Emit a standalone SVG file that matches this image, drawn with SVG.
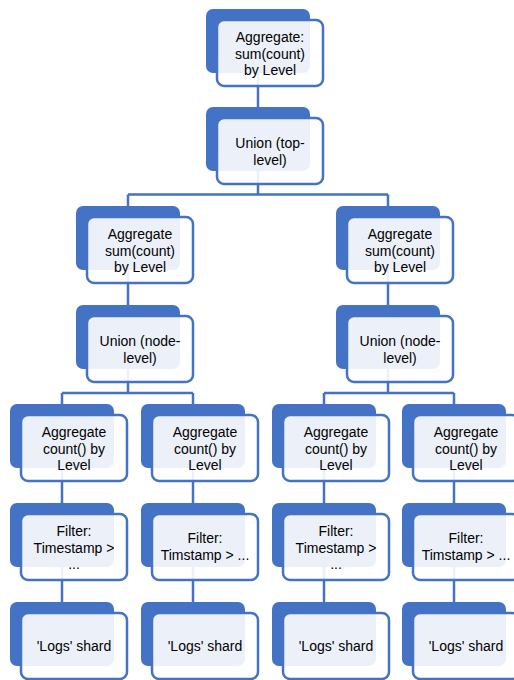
<svg xmlns="http://www.w3.org/2000/svg" width="514" height="680" viewBox="0 0 514 680">
<style>
.bg{fill:#ffffff}
.back{fill:#4472C4}
.front{fill:#ffffff;fill-opacity:0.9;stroke:#4472C4;stroke-width:2.5}
.conn{fill:none;stroke:#4472C4;stroke-width:2.5}
text{font-family:"Liberation Sans",Arial,sans-serif;font-size:14px;fill:#000000;text-anchor:middle}
</style>
<rect class="bg" x="0" y="0" width="514" height="680"/>
<g id="connectors">
<path class="conn" d="M258,60 V107"/>
<path class="conn" d="M258,160 V194.5 M128,194.5 H388 M128,194.5 V215 M388,194.5 V215"/>
<path class="conn" d="M128,260 V315 M388,260 V315"/>
<path class="conn" d="M128,360 V393 M62,393 H193 M62,393 V414 M193,393 V414"/>
<path class="conn" d="M388,360 V393 M324,393 H454 M324,393 V414 M454,393 V414"/>
<path class="conn" d="M62,460 V513 M193,460 V513 M324,460 V513 M454,460 V513"/>
<path class="conn" d="M62,560 V612 M193,560 V612 M324,560 V612 M454,560 V612"/>
</g>
<g id="n1"><rect class="back" x="206" y="9" width="104" height="64" rx="7"/><rect class="front" x="217" y="20" width="106" height="66" rx="7"/><text x="270" y="42">Aggregate:</text><text x="270" y="58.5">sum(count)</text><text x="270" y="75">by Level</text></g>
<g id="n2"><rect class="back" x="206" y="107" width="104" height="64" rx="7"/><rect class="front" x="217" y="118" width="106" height="66" rx="7"/><text x="270" y="148">Union (top-</text><text x="270" y="165">level)</text></g>
<g id="n3a"><rect class="back" x="76" y="206" width="104" height="64" rx="7"/><rect class="front" x="87" y="217" width="106" height="66" rx="7"/><text x="140" y="239">Aggregate</text><text x="140" y="255.5">sum(count)</text><text x="140" y="272">by Level</text></g>
<g id="n3b"><rect class="back" x="336" y="206" width="104" height="64" rx="7"/><rect class="front" x="347" y="217" width="106" height="66" rx="7"/><text x="400" y="239">Aggregate</text><text x="400" y="255.5">sum(count)</text><text x="400" y="272">by Level</text></g>
<g id="n4a"><rect class="back" x="76" y="305" width="104" height="64" rx="7"/><rect class="front" x="87" y="316" width="106" height="66" rx="7"/><text x="140" y="346">Union (node-</text><text x="140" y="363">level)</text></g>
<g id="n4b"><rect class="back" x="336" y="305" width="104" height="64" rx="7"/><rect class="front" x="347" y="316" width="106" height="66" rx="7"/><text x="400" y="346">Union (node-</text><text x="400" y="363">level)</text></g>
<g id="n5a"><rect class="back" x="10" y="404" width="104" height="64" rx="7"/><rect class="front" x="21" y="415" width="106" height="66" rx="7"/><text x="74" y="437">Aggregate</text><text x="74" y="453.5">count() by</text><text x="74" y="470">Level</text></g>
<g id="n5b"><rect class="back" x="141" y="404" width="104" height="64" rx="7"/><rect class="front" x="152" y="415" width="106" height="66" rx="7"/><text x="205" y="437">Aggregate</text><text x="205" y="453.5">count() by</text><text x="205" y="470">Level</text></g>
<g id="n5c"><rect class="back" x="272" y="404" width="104" height="64" rx="7"/><rect class="front" x="283" y="415" width="106" height="66" rx="7"/><text x="336" y="437">Aggregate</text><text x="336" y="453.5">count() by</text><text x="336" y="470">Level</text></g>
<g id="n5d"><rect class="back" x="402" y="404" width="104" height="64" rx="7"/><rect class="front" x="413" y="415" width="106" height="66" rx="7"/><text x="466" y="437">Aggregate</text><text x="466" y="453.5">count() by</text><text x="466" y="470">Level</text></g>
<g id="n6a"><rect class="back" x="10" y="503" width="104" height="64" rx="7"/><rect class="front" x="21" y="514" width="106" height="66" rx="7"/><text x="74" y="536">Filter:</text><text x="74" y="552.5">Timestamp &gt;</text><text x="74" y="569">...</text></g>
<g id="n6b"><rect class="back" x="141" y="503" width="104" height="64" rx="7"/><rect class="front" x="152" y="514" width="106" height="66" rx="7"/><text x="205" y="543">Filter:</text><text x="205" y="560">Timstamp &gt; ...</text></g>
<g id="n6c"><rect class="back" x="272" y="503" width="104" height="64" rx="7"/><rect class="front" x="283" y="514" width="106" height="66" rx="7"/><text x="336" y="536">Filter:</text><text x="336" y="552.5">Timestamp &gt;</text><text x="336" y="569">...</text></g>
<g id="n6d"><rect class="back" x="402" y="503" width="104" height="64" rx="7"/><rect class="front" x="413" y="514" width="106" height="66" rx="7"/><text x="466" y="543">Filter:</text><text x="466" y="560">Timstamp &gt; ...</text></g>
<g id="n7a"><rect class="back" x="10" y="602" width="104" height="64" rx="7"/><rect class="front" x="21" y="613" width="106" height="66" rx="7"/><text x="74" y="651">'Logs' shard</text></g>
<g id="n7b"><rect class="back" x="141" y="602" width="104" height="64" rx="7"/><rect class="front" x="152" y="613" width="106" height="66" rx="7"/><text x="205" y="651">'Logs' shard</text></g>
<g id="n7c"><rect class="back" x="272" y="602" width="104" height="64" rx="7"/><rect class="front" x="283" y="613" width="106" height="66" rx="7"/><text x="336" y="651">'Logs' shard</text></g>
<g id="n7d"><rect class="back" x="402" y="602" width="104" height="64" rx="7"/><rect class="front" x="413" y="613" width="106" height="66" rx="7"/><text x="466" y="651">'Logs' shard</text></g>
</svg>
